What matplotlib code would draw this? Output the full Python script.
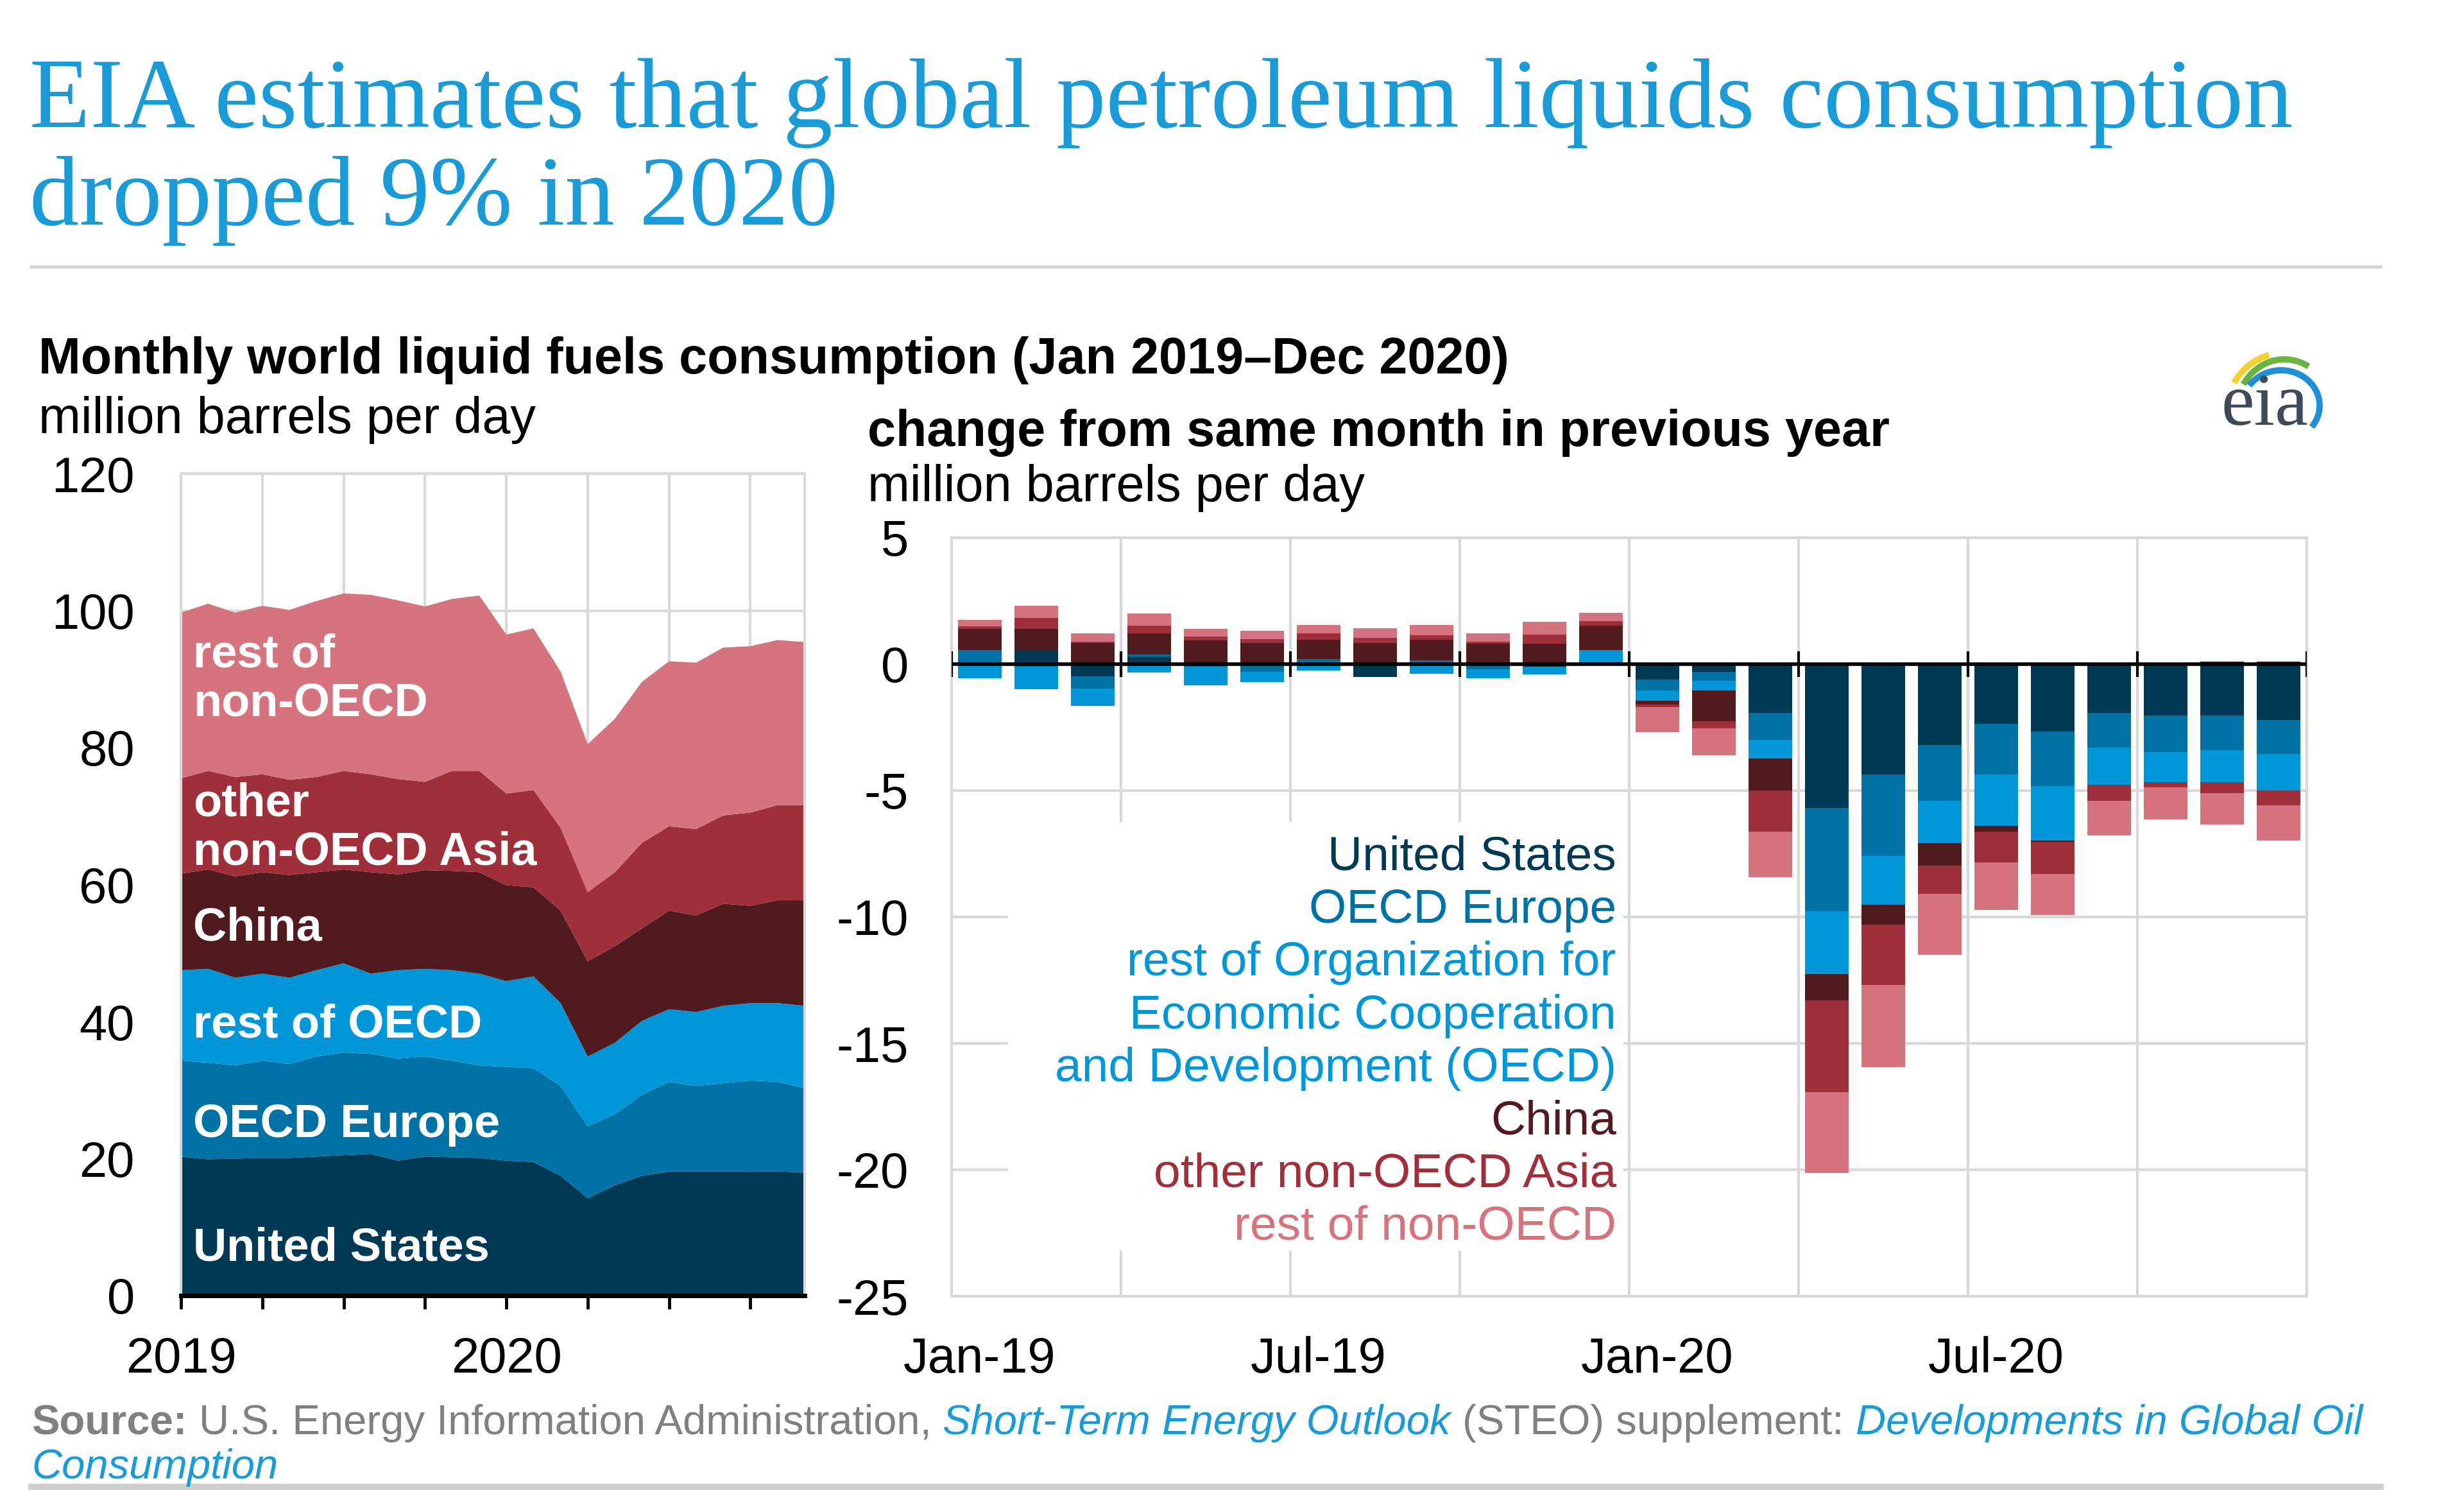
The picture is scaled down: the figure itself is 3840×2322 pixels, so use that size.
import numpy as np
import matplotlib
matplotlib.use("Agg")
import matplotlib.pyplot as plt
from matplotlib.patches import Rectangle, Arc

plt.rcParams["font.family"] = ["Liberation Sans", "DejaVu Sans"]
plt.rcParams["axes.unicode_minus"] = False

W, H = 3840, 2322


def fx(px):
    return px / W


def fy(py):
    return 1 - py / H


# --- data -----------------------------------------------------------------
MONTHS = list(range(24))          # Jan 2019 .. Dec 2020
REGIONS = ["United States", "OECD Europe",
           "rest of Organization for\nEconomic Cooperation\nand Development (OECD)",
           "China", "other non-OECD Asia", "rest of non-OECD"]
COLORS = ["#003953", "#0071a4", "#0096d7", "#511a1f", "#9f2f3b", "#d5737e"]

# consumption, million barrels per day
CONS_US = [20.3, 19.9, 20.0, 20.1, 20.1, 20.3, 20.5, 20.7, 19.7, 20.3, 20.2, 20.1,
           19.7, 19.5, 17.5, 14.2, 16.1, 17.5, 18.1, 18.1, 18.1, 18.1, 18.1, 18.0]
CONS_EUR = [14.0, 14.1, 13.6, 14.2, 13.7, 14.6, 15.0, 14.6, 14.9, 14.6, 14.1, 13.5,
            13.7, 13.7, 13.1, 10.5, 10.4, 11.8, 13.1, 12.5, 12.9, 13.3, 13.1, 12.3]
CONS_ROECD = [13.2, 13.7, 12.8, 12.7, 12.6, 12.6, 13.0, 11.7, 12.9, 12.8, 13.2, 13.4,
              12.5, 13.4, 12.1, 10.2, 10.4, 10.8, 10.6, 10.8, 11.3, 11.3, 11.5, 12.0]
CONS_CHINA = [14.1, 14.5, 14.8, 14.8, 15.0, 14.3, 13.7, 14.8, 14.0, 14.4, 14.5, 14.8,
              14.0, 13.0, 13.5, 13.9, 14.1, 13.5, 14.4, 14.1, 14.9, 14.2, 15.0, 15.4]
CONS_OASIA = [13.9, 14.4, 14.5, 14.3, 13.9, 13.9, 14.4, 14.3, 13.9, 12.9, 14.6, 14.8,
              13.4, 14.2, 12.1, 10.1, 10.8, 12.5, 12.3, 12.6, 12.9, 13.6, 13.9, 13.9]
CONS_RNON = [24.2, 24.4, 24.0, 24.6, 24.8, 25.7, 25.9, 26.2, 26.1, 25.6, 25.1, 25.6,
             23.2, 23.6, 22.8, 21.6, 22.4, 23.5, 24.1, 24.3, 24.5, 24.3, 24.1, 23.8]

# change from same month in previous year, million barrels per day
CHG_US = [0.0, 0.55, -0.47, 0.3, 0.0, 0.0, 0.0, -0.5, 0.0, 0.0, -0.1, 0.0,
          -0.6, -0.3, -1.94, -5.68, -4.36, -3.2, -2.36, -2.67, -1.94, -2.04, -2.04, -2.21]
CHG_EUR = [0.55, -0.1, -0.5, 0.08, -0.1, -0.3, 0.2, 0.0, 0.15, -0.2, 0.0, 0.0,
           -0.45, -0.35, -1.05, -4.1, -3.22, -2.21, -2.0, -2.15, -1.37, -1.43, -1.37, -1.35]
CHG_ROECD = [-0.55, -0.9, -0.68, -0.34, -0.75, -0.42, -0.25, 0.0, -0.38, -0.35, -0.3, 0.55,
             -0.4, -0.4, -0.74, -2.48, -1.94, -1.68, -2.04, -2.17, -1.47, -1.2, -1.26, -1.43]
CHG_CHINA = [0.85, 0.85, 0.85, 0.85, 0.93, 0.85, 0.76, 0.85, 0.82, 0.8, 0.8, 0.97,
             -0.15, -1.2, -1.26, -1.03, -0.78, -0.88, -0.23, -0.04, 0.0, 0.05, 0.1, 0.1]
CHG_OASIA = [0.1, 0.42, 0.05, 0.3, 0.17, 0.13, 0.25, 0.2, 0.17, 0.08, 0.38, 0.17,
             -0.1, -0.3, -1.64, -3.64, -2.38, -1.12, -1.2, -1.28, -0.63, -0.21, -0.42, -0.59]
CHG_RNON = [0.25, 0.5, 0.33, 0.47, 0.3, 0.34, 0.34, 0.38, 0.42, 0.34, 0.5, 0.34,
            -1.0, -1.05, -1.79, -3.2, -3.26, -2.42, -1.9, -1.62, -1.37, -1.26, -1.26, -1.41]

AREA_LABELS = ["United States", "OECD Europe", "rest of OECD", "China",
               "other\nnon-OECD Asia", "rest of\nnon-OECD"]
AREA_LABEL_Y = [6.9, 24.9, 39.5, 53.6, 68.2, 90.0]
BAR_TICKS = ["Jan-19", "Jul-19", "Jan-20", "Jul-20"]

GRID = "#d9d9d9"
BLUE = "#1a9ad6"
GREY_TXT = "#808080"

fig = plt.figure(figsize=(W / 100, H / 100), dpi=100)

# --- header ---------------------------------------------------------------
fig.text(fx(46), fy(198), "EIA estimates that global petroleum liquids consumption",
         family=["Liberation Serif"], fontsize=111.5, color=BLUE, va="baseline")
fig.text(fx(46), fy(350), "dropped 9% in 2020",
         family=["Liberation Serif"], fontsize=111.5, color=BLUE, va="baseline")
fig.add_artist(plt.Line2D([fx(49), fx(3710)], [fy(416), fy(416)],
                          color="#d6d6d6", lw=4, transform=fig.transFigure))

fig.text(fx(60), fy(582), "Monthly world liquid fuels consumption (Jan 2019\u2013Dec 2020)",
         fontsize=57, fontweight="bold", color="black", va="baseline")
fig.text(fx(60), fy(675), "million barrels per day", fontsize=57, va="baseline")
fig.text(fx(1352), fy(695), "change from same month in previous year",
         fontsize=57, fontweight="bold", va="baseline")
fig.text(fx(1352), fy(781), "million barrels per day", fontsize=57, va="baseline")

# --- left: stacked area ---------------------------------------------------
ax1 = fig.add_axes([fx(282), fy(2019), fx(1254) - fx(282), fy(738) - fy(2019)])
ax1.stackplot(MONTHS, CONS_US, CONS_EUR, CONS_ROECD, CONS_CHINA, CONS_OASIA, CONS_RNON,
              colors=COLORS, linewidth=0, zorder=2)
ax1.set_xlim(0, 23)
ax1.set_ylim(0, 120)
ax1.set_yticks(range(0, 121, 20))
ax1.set_xticks(range(0, 24, 3))
ax1.set_xticklabels(["2019", "", "", "", "2020", "", "", ""])
ax1.grid(True, color=GRID, lw=3)
ax1.set_axisbelow(True)
for side in ["top", "right", "left"]:
    ax1.spines[side].set_color(GRID)
    ax1.spines[side].set_linewidth(3)
ax1.spines["bottom"].set_color("black")
ax1.spines["bottom"].set_linewidth(5)
ax1.spines["bottom"].set_zorder(3)
ax1.tick_params(axis="x", length=15, width=3.5, color="black", labelsize=56, pad=30)
ax1.tick_params(axis="y", length=0, labelsize=56, pad=52)
for lab, yv in zip(AREA_LABELS, AREA_LABEL_Y):
    ax1.text(0.45, yv, lab, color="white", fontsize=52, fontweight="bold",
             ha="left", va="center", linespacing=1.15, zorder=4)

# --- right: stacked bars --------------------------------------------------
ax2 = fig.add_axes([fx(1483), fy(2020), fx(3595) - fx(1483), fy(838) - fy(2020)])
x = np.array(MONTHS) + 0.5
series = [CHG_US, CHG_EUR, CHG_ROECD, CHG_CHINA, CHG_OASIA, CHG_RNON]
pos = np.zeros(len(MONTHS))
neg = np.zeros(len(MONTHS))
for vals, col in zip(series, COLORS):
    v = np.array(vals)
    bottom = np.where(v >= 0, pos, neg)
    ax2.bar(x, v, bottom=bottom, width=0.77, color=col, linewidth=0, zorder=2)
    pos = pos + np.clip(v, 0, None)
    neg = neg + np.clip(v, None, 0)

ax2.set_xlim(0, 24)
ax2.set_ylim(-25, 5)
ax2.set_yticks(range(-25, 6, 5))
ax2.set_xticks([0.5, 6.5, 12.5, 18.5])
ax2.set_xticklabels(BAR_TICKS)
ax2.set_xticks(range(0, 25, 3), minor=True)
ax2.grid(True, which="minor", axis="x", color=GRID, lw=3)
ax2.grid(True, which="major", axis="y", color=GRID, lw=3)
ax2.set_axisbelow(True)
for side in ax2.spines:
    ax2.spines[side].set_color(GRID)
    ax2.spines[side].set_linewidth(3)
ax2.tick_params(axis="both", which="both", length=0, labelsize=56)
ax2.tick_params(axis="x", pad=45)
ax2.tick_params(axis="y", pad=48)
ax2.axhline(0, color="black", lw=4, zorder=3)
ax2.vlines(range(0, 25, 3), -0.5, 0.5, color="black", lw=3, zorder=3)

# legend block
ax2.add_patch(Rectangle((1.0, -23.2), 10.9, 16.95, facecolor="white",
                        edgecolor="none", zorder=1))
leg_y = -7.64
for name, col in zip(REGIONS, COLORS):
    for line in name.split("\n"):
        ax2.text(11.77, leg_y, line, color=col, fontsize=54, ha="right",
                 va="center", zorder=4)
        leg_y -= 2.09

# --- source ---------------------------------------------------------------
renderer = fig.canvas.get_renderer()
parts = [("Source:", dict(color=GREY_TXT, fontweight="bold")),
         (" U.S. Energy Information Administration, ", dict(color=GREY_TXT)),
         ("Short-Term Energy Outlook", dict(color=BLUE, style="italic")),
         (" (STEO) supplement: ", dict(color=GREY_TXT)),
         ("Developments in Global Oil", dict(color=BLUE, style="italic"))]
xpos = fx(49)
for s, st in parts:
    t = fig.text(xpos, fy(2235), s, fontsize=47, va="baseline", **st)
    xpos = t.get_window_extent(renderer=renderer).x1 / W
fig.text(fx(49), fy(2304), "Consumption", fontsize=47, va="baseline",
         color=BLUE, style="italic")
fig.add_artist(plt.Line2D([fx(49), fx(3710)], [fy(2317), fy(2317)],
                          color="#cfcfcf", lw=7, transform=fig.transFigure))

# --- eia logo ---------------------------------------------------------------
lg = fig.add_axes([fx(3450), fy(690), fx(3640) - fx(3450), fy(540) - fy(690)])
lg.set_xlim(3450, 3640)
lg.set_ylim(H - 690, H - 540)
lg.axis("off")
lg.text(3462, H - 662, "eia", family=["Liberation Serif"], fontsize=84,
        color="#3f4a58", va="baseline", ha="left")
lg.add_patch(Arc((3560, 1680), 180, 184, theta1=105, theta2=150, color="#f2d02e", lw=7))
lg.add_patch(Arc((3560, 1680), 150, 164, theta1=62, theta2=146, color="#6db33f", lw=7))
lg.add_patch(Arc((3555, 1690), 120, 110, theta1=-35, theta2=148, color="#1f8fd6", lw=7))

fig.savefig("out.png", dpi=100)
